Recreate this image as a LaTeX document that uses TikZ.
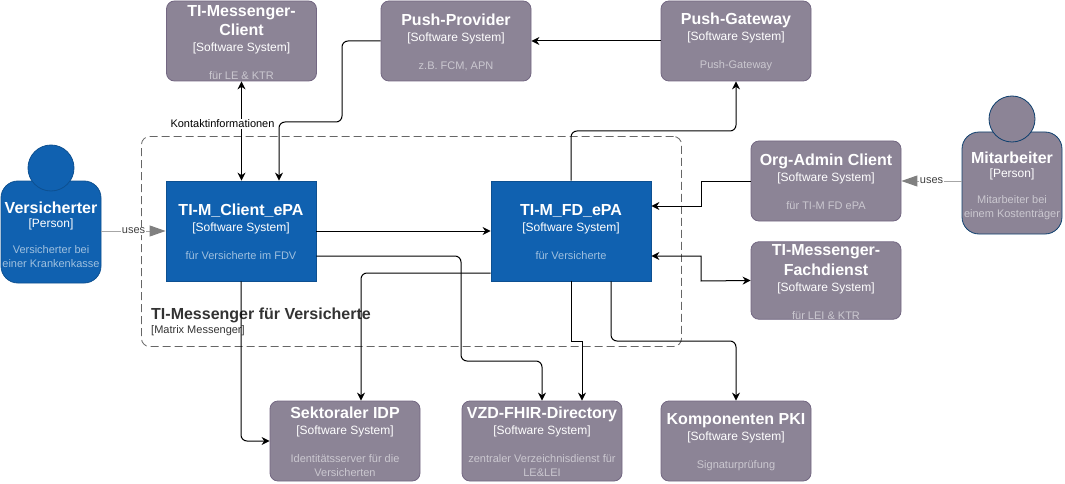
\documentclass[tikz,border=0pt]{standalone}
\usepackage{fontspec}
\setmainfont{Liberation Sans}
\usepackage{xcolor}
\usetikzlibrary{arrows.meta,positioning,calc}
\definecolor{sysgrey}{HTML}{8C8496}
\definecolor{sysgreyline}{HTML}{736782}
\definecolor{sysblue}{HTML}{1061B0}
\definecolor{sysblueline}{HTML}{0D5091}
\definecolor{persline}{HTML}{0D3F6E}
\newcommand{\sysname}[1]{{\fontsize{16}{19}\selectfont\bfseries\rule{0pt}{14pt}#1}\\[1pt]}
\newcommand{\systype}[1]{{[#1]}\\[13pt]}
\newcommand{\sysdesc}[1]{{\fontsize{11}{17}\selectfont\color{desc}#1}}
\newcommand{\persname}[1]{{\fontsize{16}{19}\selectfont\bfseries\rule{0pt}{18pt}#1}\\[-1pt]}
\newcommand{\perstype}[1]{{[#1]}\\[11pt]}
\tikzset{
  sysbase/.style    = {rectangle, align=center, text=white, inner sep=0pt, line width=0.8pt,
                       font=\fontsize{12}{15}\selectfont},
  sysext/.style     = {sysbase, rounded corners=8pt, draw=sysgreyline, fill=sysgrey,
                       minimum width=150pt, minimum height=80pt,
                       execute at begin node={\colorlet{desc}{white!55!sysgrey}}},
  sysint/.style     = {sysbase, draw=sysblueline, fill=sysblue, minimum height=100pt,
                       execute at begin node={\colorlet{desc}{white!60!sysblue}}},
  persbody/.style   = {sysbase, rounded corners=17pt, minimum width=100pt, minimum height=102pt},
  pershead/.style   = {circle, line width=0.8pt, minimum size=46pt, inner sep=0pt},
  groupbox/.style   = {rectangle, rounded corners=8pt, draw=black!60, line width=0.8pt,
                       dash pattern=on 8pt off 4pt, minimum width=540pt, minimum height=210pt},
  grouplbl/.style   = {align=left, text=black!80, inner sep=0pt, anchor=west,
                       font=\fontsize{11}{14}\selectfont},
  flow/.style       = {-{Stealth[length=8pt,width=8pt]}, draw=black, line width=1pt},
  flowround/.style  = {flow, rounded corners=6pt},
  flowboth/.style   = {{Stealth[length=8pt,width=8pt]}-{Stealth[length=8pt,width=8pt]},
                       draw=black, line width=1pt},
  usesflow/.style   = {-{Triangle[length=16pt,width=11pt,color=black!50,fill=black!50]},
                       draw=black!35, line width=1pt},
  flowlbl/.style    = {fill=white, inner sep=1pt, font=\fontsize{11}{13}\selectfont},
}
\begin{document}
\begin{tikzpicture}[x=1pt,y=-1pt]
  \useasboundingbox (0,0) rectangle (1065,484);
  \node[groupbox] (group) at (411.5,241.5) {};
  \node[grouplbl] (grouptxt) at (151,322) {{\fontsize{16}{18}\selectfont\bfseries TI-Messenger für Versicherte}\\{[Matrix Messenger]}};

  \node[sysext] (client) at (241.5,41) {\sysname{TI-Messenger-}\sysname{Client}\systype{Software System}\sysdesc{für LE \& KTR}};
  \node[sysext] (provider) at (456,41) {\sysname{Push-Provider}\systype{Software System}\sysdesc{z.B. FCM, APN}};
  \node[sysext] (gateway) at (736,41) {\sysname{Push-Gateway}\systype{Software System}\sysdesc{Push-Gateway}};
  \node[sysint, minimum width=150pt] (cepa) at (241,231) {\sysname{TI-M\_Client\_ePA}\systype{Software System}\sysdesc{für Versicherte im FDV}};
  \node[sysint, minimum width=160pt] (fdepa) at (571,231) {\sysname{TI-M\_FD\_ePA}\systype{Software System}\sysdesc{für Versicherte}};
  \node[sysext] (orgadmin) at (826,181) {\sysname{Org-Admin Client}\systype{Software System}\sysdesc{für TI-M FD ePA}};
  \node[sysext, minimum height=77pt] (fachdienst) at (826,280.5) {\sysname{TI-Messenger-}\sysname{Fachdienst}\systype{Software System}\sysdesc{für LEI \& KTR}};
  \node[sysext] (idp) at (345,441) {\sysname{Sektoraler IDP}\systype{Software System}\sysdesc{Identitätsserver für die}\\[-1pt]\sysdesc{Versicherten}};
  \node[sysext, minimum width=160pt] (vzd) at (542,441) {\sysname{VZD-FHIR-Directory}\systype{Software System}\sysdesc{zentraler Verzeichnisdienst für}\\[-1pt]\sysdesc{LE\&LEI}};
  \node[sysext] (pki) at (736,441) {\sysname{Komponenten PKI}\systype{Software System}\sysdesc{Signaturprüfung}};

  % persons
  \node[persbody, draw=sysblueline, fill=sysblue, execute at begin node={\colorlet{desc}{white!60!sysblue}}] (versicherter) at (51,232) {\persname{Versicherter}\perstype{Person}\sysdesc{Versicherter bei}\\[-1pt]\sysdesc{einer Krankenkasse}};
  \node[pershead, draw=sysblueline, fill=sysblue] (versicherterhead) at (51,168) {};
  \node[persbody, draw=persline, fill=sysgrey, execute at begin node={\colorlet{desc}{white!55!sysgrey}}] (mitarbeiter) at (1012,183) {\persname{Mitarbeiter}\perstype{Person}\sysdesc{Mitarbeiter bei}\\[-1pt]\sysdesc{einem Kostenträger}};
  \node[pershead, draw=persline, fill=sysgrey] (mitarbeiterhead) at (1012,119) {};

  \draw[usesflow] (versicherter.east |- cepa.west) -- node[flowlbl, text=black!75, pos=0.5]{uses} (cepa.west);
  \draw[usesflow] (mitarbeiter.west |- orgadmin.east) -- node[flowlbl, text=black!75, pos=0.5]{uses} (orgadmin.east);

  \draw[flowboth] (client.south) -- node[flowlbl, pos=0.43, xshift=-19pt]{Kontaktinformationen} (cepa.north -| client.south);
  \draw[flowround] (provider.west) -- (342,41) -- (342,122) -- (279,122) -- ([xshift=38pt]cepa.north);
  \draw[flow] (gateway.west) -- (provider.east);
  \draw[flowround] (fdepa.north) -- (571,131) -- (736,131) -- (gateway.south);
  \draw[flow] (cepa.east) -- (fdepa.west);
  \draw[flowround] ([yshift=-25pt]cepa.east) -- (461,256) -- (461,361) -- (542,361) -- (vzd.north);
  \draw[flowround] ([yshift=-42pt]fdepa.west) -- (361,273) -- ([xshift=16pt]idp.north);
  \draw[flow] (fdepa.south) -- (571,341) -- (582,341) -- ([xshift=40pt]vzd.north);
  \draw[flowround] ([xshift=40pt]fdepa.south) -- (611,341) -- (736,341) -- (pki.north);
  \draw[flowround] (cepa.south) -- (241,441) -- (idp.west);
  \draw[flow] (orgadmin.west) -- (701,181) -- (701,206) -- ([yshift=25pt]fdepa.east);
  \draw[flowboth] ([yshift=-25pt]fdepa.east) -- (701,256) -- (701,281) -- (fachdienst.west);
\end{tikzpicture}
\end{document}
